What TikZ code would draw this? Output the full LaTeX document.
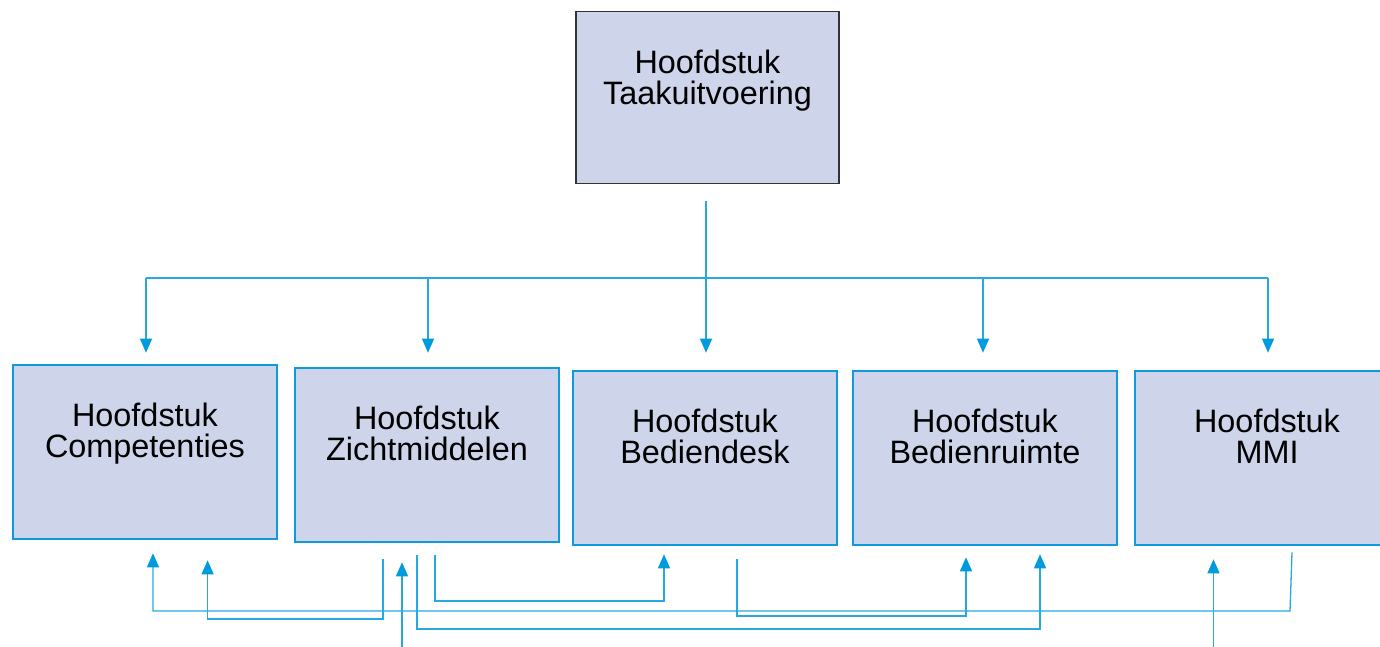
\documentclass[tikz,border=0pt]{standalone}
\usepackage{fontspec}
\setmainfont{Liberation Sans}
\usetikzlibrary{arrows.meta,calc}
\definecolor{boxfill}{RGB}{206,212,234}
\definecolor{boxblue}{RGB}{14,154,219}
\definecolor{lineblue}{RGB}{40,168,225}
\definecolor{tipblue}{RGB}{0,155,222}
\definecolor{topborder}{RGB}{50,50,55}
\tikzset{
  chapbox/.style={draw=boxblue, line width=2.6pt, fill=boxfill, minimum width=264pt, minimum height=174pt, inner sep=0pt},
  topbox/.style={draw=topborder, line width=1.3pt, fill=boxfill, minimum width=263pt, minimum height=172pt, inner sep=0pt},
  boxtext/.style={anchor=north, inner sep=0pt, align=center, font=\fontsize{32.4}{30.5}\selectfont},
  conn/.style={draw=lineblue, line width=1.3pt},
  arr/.style={conn, -{Triangle[width=12pt,length=14pt,color=tipblue]}}
}
\begin{document}
\begin{tikzpicture}[x=1pt,y=-1pt]
\useasboundingbox (0,0) rectangle (1380,647);
\clip (0,0) rectangle (1380,647);
\fill[white] (0,0) rectangle (1380,647);
% boxes
\node[topbox] (top) at (707.5,97.5) {};
\node[chapbox] (c1) at (145,452) {};
\node[chapbox] (c2) at (427,455) {};
\node[chapbox] (c3) at (705,458) {};
\node[chapbox] (c4) at (985,458) {};
\node[chapbox] (c5) at (1267,458) {};
% texts
\node[boxtext] (topt) at ($(top.north)+(0,39)$) {Hoofdstuk\\Taakuitvoering};
\node[boxtext] (c1t) at ($(c1.north)+(0,39.5)$) {Hoofdstuk\\Competenties};
\node[boxtext] (c2t) at ($(c2.north)+(0,39.5)$) {Hoofdstuk\\Zichtmiddelen};
\node[boxtext] (c3t) at ($(c3.north)+(0,39.5)$) {Hoofdstuk\\Bediendesk};
\node[boxtext] (c4t) at ($(c4.north)+(0,39.5)$) {Hoofdstuk\\Bedienruimte};
\node[boxtext] (c5t) at ($(c5.north)+(0,39.5)$) {Hoofdstuk\\MMI};
% top distribution
\coordinate (busL) at (146,278);
\coordinate (busR) at (1268,278);
\draw[conn] (busL) -- (busR);
\draw[arr] ($(top.south)+(-1.5,17)$) -- ($(c3.north)+(1,-17)$);
\draw[arr] (busL) -- ($(c1.north)+(1,-11)$);
\draw[arr] ($(c2.north |- busL)+(1,0)$) -- ($(c2.north)+(1,-14)$);
\draw[arr] ($(c4.north |- busL)+(-2,0)$) -- ($(c4.north)+(-2,-17)$);
\draw[arr] (busR) -- ($(c5.north)+(1,-17)$);
% bottom cross links
\coordinate (a0) at ($(c5.south)+(25,6)$);
\coordinate (a1) at (1290,611);
\draw[arr] (a0) -- (a1) -| ($(c1.south)+(8,13)$);
\coordinate (b0) at ($(c2.south)+(-44,16)$);
\draw[arr] (b0) -- (b0 |- 0,619) -| ($(c1.south)+(62.6,20)$);
\coordinate (cfree) at (402,647);
\draw[arr] (cfree) -- ($(c2.south)+(-25,19)$);
\coordinate (d0) at ($(c2.south)+(-10,12)$);
\draw[arr] (d0) -- (d0 |- 0,629) -| ($(c4.south)+(55,8)$);
\coordinate (e0) at ($(c2.south)+(8,12)$);
\draw[arr] (e0) -- (e0 |- 0,601) -| ($(c3.south)+(-41,8)$);
\coordinate (f0) at ($(c3.south)+(32,13)$);
\draw[arr] (f0) -- (f0 |- 0,616) -| ($(c4.south)+(-19,11)$);
\coordinate (gfree) at (1213.5,647);
\draw[arr] (gfree) -- ($(c5.south)+(-53.5,13)$);
\end{tikzpicture}
\end{document}
